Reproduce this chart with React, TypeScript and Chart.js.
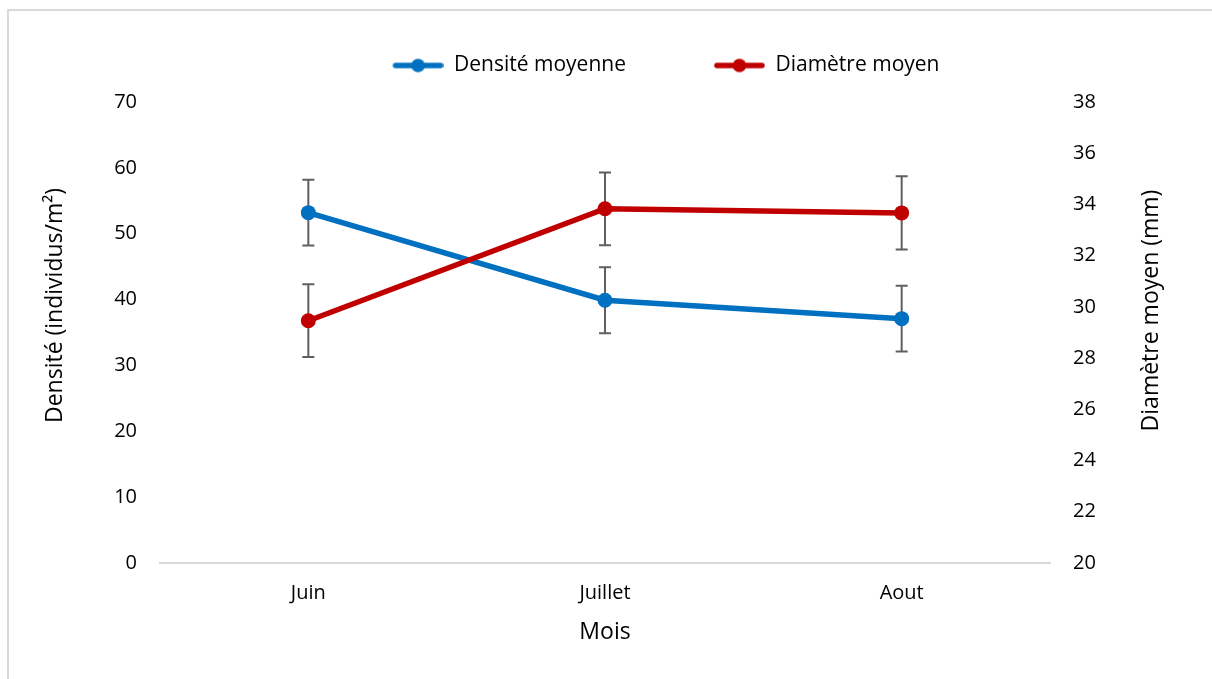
import React, { useEffect, useRef } from 'react';
import { Chart, registerables } from 'chart.js';

Chart.register(...registerables);

// ---- data ----
const categories = ['Juin', 'Juillet', 'Aout'];
const densityLabel = 'Densité moyenne';
const densityValues = [53.2, 39.9, 37.1];
const densityErrors = [5.0, 5.0, 5.0];
const diameterLabel = 'Diamètre moyen';
const diameterValues = [29.46, 33.83, 33.67];
const diameterErrors = [1.42, 1.42, 1.43];
const leftTicks = [0, 10, 20, 30, 40, 50, 60, 70];
const rightTicks = [20, 22, 24, 26, 28, 30, 32, 34, 36, 38];
const xTitle = 'Mois';
const leftTitle = 'Densité (individus/m²)';
const rightTitle = 'Diamètre moyen (mm)';

const BLUE = '#0070C0';
const RED = '#C00000';
const FONT = "'Open Sans', sans-serif";
const MARKER_GAP = 88;

function makeMarker(color: string) {
  const c = document.createElement('canvas');
  c.width = MARKER_GAP + 51;
  c.height = 16;
  const g = c.getContext('2d')!;
  g.strokeStyle = color;
  g.lineWidth = 5.5;
  g.lineCap = 'round';
  g.beginPath();
  g.moveTo(MARKER_GAP + 3, 8);
  g.lineTo(MARKER_GAP + 48, 8);
  g.stroke();
  g.fillStyle = color;
  g.beginPath();
  g.arc(MARKER_GAP + 25.5, 8, 6.8, 0, Math.PI * 2);
  g.fill();
  return c;
}

const errorBarsPlugin = {
  id: 'errorBars',
  beforeDatasetsDraw(chart: any, _args: any, opts: any) {
    const ctx = chart.ctx;
    const errs: number[][] = opts.errors || [];
    ctx.save();
    ctx.strokeStyle = opts.color || '#5f5f5f';
    ctx.lineWidth = opts.width || 2;
    chart.data.datasets.forEach((ds: any, i: number) => {
      const meta = chart.getDatasetMeta(i);
      const yScale = chart.scales[meta.yAxisID];
      const e = errs[i];
      if (!e) return;
      meta.data.forEach((pt: any, j: number) => {
        const v = ds.data[j];
        const yt = yScale.getPixelForValue(v + e[j]);
        const yb = yScale.getPixelForValue(v - e[j]);
        const x = pt.x;
        const cap = opts.cap || 6;
        ctx.beginPath();
        ctx.moveTo(x, yt);
        ctx.lineTo(x, yb);
        ctx.moveTo(x - cap, yt);
        ctx.lineTo(x + cap, yt);
        ctx.moveTo(x - cap, yb);
        ctx.lineTo(x + cap, yb);
        ctx.stroke();
      });
    });
    ctx.restore();
  },
};

const legendGapPlugin = {
  id: 'legendGap',
  beforeLayout(chart: any, _args: any, opts: any) {
    const lg = chart.legend;
    if (lg && !lg.__patched) {
      const fit = lg.fit;
      lg.fit = function () {
        fit.call(this);
        this.height += opts.extra || 0;
      };
      lg.__patched = true;
    }
  },
};

const sideTitlesPlugin = {
  id: 'sideTitles',
  afterDraw(chart: any, _args: any, opts: any) {
    const { ctx, chartArea } = chart;
    const mid = (chartArea.top + chartArea.bottom) / 2;
    ctx.save();
    ctx.font = `${opts.size}px ${FONT}`;
    ctx.fillStyle = '#000';
    ctx.textAlign = 'center';
    ctx.textBaseline = 'middle';
    (opts.items || []).forEach((it: any) => {
      const x = it.side === 'left' ? chartArea.left - it.dx : chartArea.right + it.dx;
      ctx.save();
      ctx.translate(x, mid + it.dy);
      ctx.rotate(-Math.PI / 2);
      ctx.fillText(it.text, 0, 0);
      ctx.restore();
    });
    ctx.restore();
  },
};

export default function App() {
  const ref = useRef<HTMLCanvasElement | null>(null);

  useEffect(() => {
    if (!ref.current) return;
    const markers = [makeMarker(BLUE), makeMarker(RED)];
    const chart = new Chart(ref.current, {
      type: 'line',
      data: {
        labels: categories,
        datasets: [
          {
            label: densityLabel,
            data: densityValues,
            borderColor: BLUE,
            backgroundColor: BLUE,
            borderWidth: 5.5,
            pointRadius: 7.5,
            pointHoverRadius: 7.5,
            pointBorderWidth: 0,
            pointBackgroundColor: BLUE,
            yAxisID: 'y',
            order: 1,
            tension: 0,
          },
          {
            label: diameterLabel,
            data: diameterValues,
            borderColor: RED,
            backgroundColor: RED,
            borderWidth: 5.5,
            pointRadius: 7.5,
            pointHoverRadius: 7.5,
            pointBorderWidth: 0,
            pointBackgroundColor: RED,
            yAxisID: 'y1',
            order: 0,
            tension: 0,
          },
        ],
      },
      options: {
        responsive: false,
        animation: false,
        devicePixelRatio: 1,
        layout: { padding: { left: 32, right: 0, top: 55, bottom: 0 } },
        plugins: {
          tooltip: { enabled: false },
          title: { display: false },
          legend: {
            display: true,
            position: 'top',
            align: 'center',
            labels: {
              usePointStyle: true,
              pointStyleWidth: MARKER_GAP + 51,
              padding: 0,
              color: '#000',
              font: { family: FONT, size: 21 },
              generateLabels: (ch: any) =>
                ch.data.datasets.map((ds: any, i: number) => ({
                  text: ds.label,
                  pointStyle: markers[i],
                  fillStyle: ds.borderColor,
                  strokeStyle: ds.borderColor,
                  lineWidth: 0,
                  hidden: false,
                  datasetIndex: i,
                  fontColor: '#000',
                })),
            },
          },
          // @ts-ignore
          legendGap: { extra: 16 },
          // @ts-ignore
          errorBars: { errors: [densityErrors, diameterErrors], color: '#5f5f5f', width: 2, cap: 6 },
          // @ts-ignore
          sideTitles: {
            size: 23,
            items: [
              { side: 'left', text: leftTitle, dx: 105, dy: -27 },
              { side: 'right', text: rightTitle, dx: 101, dy: -22 },
            ],
          },
        },
        scales: {
          x: {
            type: 'category',
            offset: true,
            grid: { display: false, drawTicks: false },
            border: { display: true, color: '#d9d9d9', width: 2 },
            ticks: { color: '#000', font: { family: FONT, size: 20 }, padding: 18 },
            title: {
              display: true,
              text: xTitle,
              color: '#000',
              font: { family: FONT, size: 23 },
              padding: { top: 0, bottom: 33 },
            },
            afterFit: (s: any) => {
              s.height = 116;
            },
          },
          y: {
            type: 'linear',
            position: 'left',
            min: leftTicks[0],
            max: leftTicks[leftTicks.length - 1],
            ticks: {
              stepSize: leftTicks[1] - leftTicks[0],
              color: '#000',
              font: { family: FONT, size: 20 },
              padding: 23,
            },
            grid: { display: false, drawTicks: false },
            border: { display: false },
            afterFit: (s: any) => {
              s.width = 128;
            },
          },
          y1: {
            type: 'linear',
            position: 'right',
            min: rightTicks[0],
            max: rightTicks[rightTicks.length - 1],
            ticks: {
              stepSize: rightTicks[1] - rightTicks[0],
              color: '#000',
              font: { family: FONT, size: 20 },
              padding: 23,
            },
            grid: { display: false, drawTicks: false },
            border: { display: false },
            afterFit: (s: any) => {
              s.width = 162;
            },
          },
        },
      },
      plugins: [errorBarsPlugin, legendGapPlugin, sideTitlesPlugin],
    } as any);
    return () => chart.destroy();
  }, []);

  return (
    <div style={{ position: 'relative', width: 1212, height: 679, overflow: 'hidden', background: '#fff' }}>
      <style>{'html,body{margin:0;padding:0;overflow:hidden;background:#fff}'}</style>
      <div
        style={{
          position: 'absolute',
          left: 7,
          top: 9,
          width: 1300,
          height: 800,
          borderTop: '2px solid #d9d9d9',
          borderLeft: '2px solid #d9d9d9',
          boxSizing: 'border-box',
          pointerEvents: 'none',
        }}
      />
      <canvas
        ref={ref}
        width={1212}
        height={679}
        style={{ position: 'absolute', left: 0, top: 0, width: 1212, height: 679 }}
      />
    </div>
  );
}
